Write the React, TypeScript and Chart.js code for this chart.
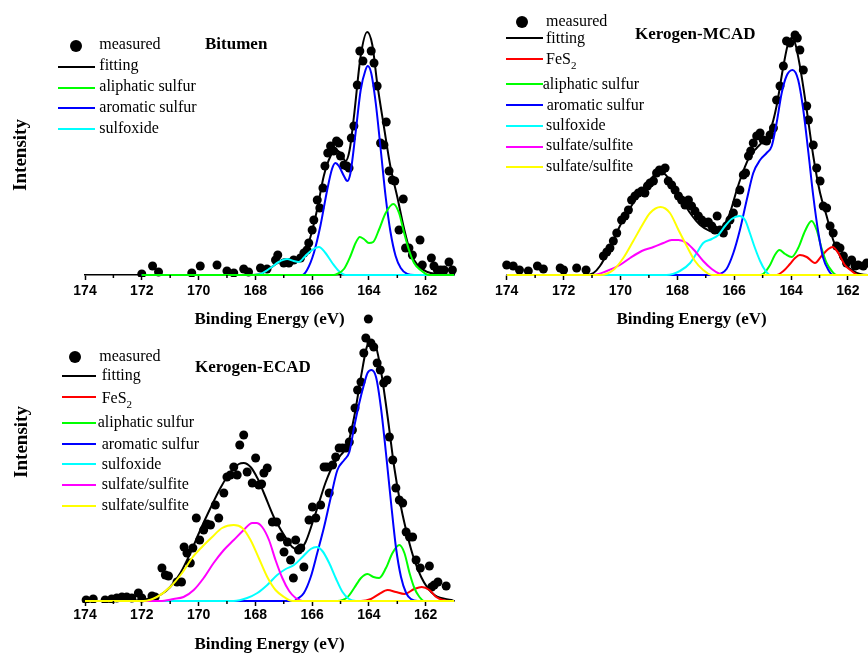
import React, { useEffect, useRef } from "react";
import { Chart, registerables } from "chart.js";

Chart.register(...registerables);

type Pt = [number, number];

// ---------------- axis values ----------------
const ENERGY_MIN = 161;
const ENERGY_MAX = 174;
const MAJOR_STEP = 2;
const MINOR_TICKS = [173, 171, 169, 167, 165, 163];

// ---------------- Bitumen ----------------
const bitumenMeasured: Pt[] = [
  [172.0, 1], [171.62, 9], [171.41, 3], [170.24, 2], [169.94, 9], [169.35, 10], [169.0, 4], [168.76, 2],
  [168.41, 6], [168.24, 3], [167.82, 7], [167.59, 6], [167.29, 15], [167.21, 20], [167.0, 12], [166.82, 12],
  [166.65, 15], [166.41, 17], [166.29, 22], [166.18, 25], [166.12, 32], [166.0, 45], [165.94, 55], [165.82, 75],
  [165.73, 67], [165.62, 87], [165.55, 109], [165.45, 122], [165.35, 129], [165.24, 124], [165.14, 134], [165.06, 132],
  [165.0, 119], [164.88, 110], [164.78, 109], [164.7, 107], [164.62, 137], [164.53, 149], [164.41, 190], [164.32, 224],
  [164.21, 214], [164.06, 253], [163.92, 224], [163.82, 212], [163.71, 189], [163.59, 132], [163.47, 130], [163.39, 153],
  [163.29, 104], [163.18, 95], [163.09, 94], [162.94, 45], [162.79, 76], [162.71, 27], [162.59, 27], [162.47, 20],
  [162.2, 35], [162.12, 10], [161.8, 17], [161.71, 9], [161.59, 5], [161.47, 5], [161.35, 5], [161.18, 13], [161.06, 5],
];
const bitumenFitting: Pt[] = [
  [172, 0], [168.2, 0], [167.82, 1], [167.47, 7], [167.18, 13], [166.88, 16], [166.65, 16], [166.41, 18],
  [166.2, 27], [166.06, 38], [165.82, 66], [165.59, 99], [165.35, 119], [165.18, 125], [165.0, 122], [164.82, 114],
  [164.68, 125], [164.53, 158], [164.29, 219], [164.06, 243], [163.88, 230], [163.71, 192], [163.47, 148], [163.24, 108],
  [163.0, 78], [162.76, 46], [162.53, 22], [162.29, 10], [161.94, 3], [161.59, 1], [161, 0],
];
const bitumenAromatic: Pt[] = [
  [172, 0], [166.35, 0], [166.18, 5], [165.94, 22], [165.71, 49], [165.47, 85], [165.3, 106], [165.18, 112],
  [165.06, 109], [164.88, 99], [164.76, 94], [164.65, 102], [164.47, 142], [164.29, 185], [164.12, 205], [164.04, 209],
  [163.92, 202], [163.76, 172], [163.59, 127], [163.41, 78], [163.24, 43], [163.06, 19], [162.88, 7], [162.65, 1],
  [162.4, 0], [161, 0],
];
const bitumenAliphatic: Pt[] = [
  [172, 0], [165.24, 0], [165.12, 1], [164.88, 6], [164.65, 19], [164.47, 32], [164.32, 38], [164.18, 36],
  [164.0, 32], [163.85, 33], [163.65, 45], [163.41, 62], [163.14, 71], [162.94, 62], [162.76, 42], [162.59, 25],
  [162.41, 12], [162.18, 5], [161.88, 0], [161, 0],
];
const bitumenSulfoxide: Pt[] = [
  [172, 0], [168.1, 0], [167.82, 1], [167.47, 7], [167.18, 13], [166.88, 16], [166.65, 14], [166.47, 13],
  [166.24, 19], [166.0, 25], [165.76, 28], [165.53, 22], [165.29, 12], [165.06, 4], [164.82, 0], [161, 0],
];

// ---------------- Kerogen-MCAD ----------------
const mcadMeasured: Pt[] = [
  [174.0, 10], [173.77, 9], [173.55, 5], [173.24, 4], [172.92, 9], [172.71, 6], [172.12, 7], [172.0, 5],
  [171.54, 7], [171.21, 5], [170.6, 19], [170.48, 23], [170.37, 27], [170.25, 34], [170.13, 42], [169.96, 55],
  [169.84, 59], [169.72, 65], [169.61, 75], [169.49, 79], [169.37, 82], [169.25, 84], [169.14, 82], [169.05, 89],
  [168.96, 92], [168.84, 94], [168.73, 102], [168.63, 105], [168.55, 104], [168.43, 107], [168.32, 94], [168.2, 90],
  [168.08, 85], [167.96, 79], [167.85, 75], [167.73, 70], [167.61, 75], [167.5, 69], [167.38, 64], [167.26, 59],
  [167.14, 55], [167.03, 52], [166.91, 53], [166.79, 49], [166.68, 45], [166.6, 59], [166.5, 45], [166.38, 42],
  [166.27, 49], [166.15, 55], [166.03, 62], [165.91, 72], [165.8, 85], [165.68, 100], [165.6, 102], [165.5, 119],
  [165.42, 124], [165.33, 132], [165.21, 139], [165.09, 142], [164.98, 135], [164.86, 134], [164.74, 140], [164.62, 147],
  [164.51, 175], [164.39, 189], [164.27, 209], [164.16, 234], [164.04, 232], [163.95, 250], [163.86, 240], [163.78, 237],
  [163.69, 225], [163.57, 205], [163.45, 169], [163.39, 155], [163.22, 130], [163.1, 107], [162.98, 94], [162.87, 69],
  [162.75, 67], [162.63, 49], [162.52, 42], [162.4, 29], [162.28, 27], [162.16, 19], [162.05, 12], [161.87, 15],
  [161.75, 9], [161.64, 10], [161.46, 9], [161.34, 12],
];
const mcadFitting: Pt[] = [
  [174, 0], [171.2, 0], [170.95, 2], [170.72, 9], [170.37, 27], [170.02, 49], [169.66, 67], [169.31, 82],
  [168.96, 95], [168.61, 104], [168.26, 95], [167.91, 79], [167.55, 62], [167.2, 50], [166.85, 44], [166.65, 42],
  [166.38, 49], [166.15, 62], [165.91, 85], [165.68, 104], [165.45, 119], [165.21, 127], [164.98, 134], [164.74, 144],
  [164.51, 169], [164.27, 209], [164.1, 232], [163.98, 237], [163.86, 232], [163.69, 209], [163.45, 165], [163.22, 119],
  [162.98, 82], [162.75, 59], [162.52, 35], [162.28, 19], [162.05, 9], [161.81, 4], [161.58, 1], [161.3, 0], [161, 0],
];
const mcadFeS2: Pt[] = [
  [174, 0], [164.51, 0], [164.27, 4], [164.04, 11], [163.86, 17], [163.69, 20], [163.45, 18], [163.16, 12],
  [162.93, 19], [162.69, 26], [162.54, 28], [162.34, 22], [162.11, 10], [161.87, 4], [161.64, 0], [161, 0],
];
const mcadAliphatic: Pt[] = [
  [174, 0], [165.09, 0], [164.98, 1], [164.74, 10], [164.57, 20], [164.41, 25], [164.21, 21], [163.98, 18],
  [163.75, 27], [163.51, 44], [163.28, 54], [163.1, 45], [162.93, 27], [162.75, 12], [162.57, 4], [162.4, 0], [161, 0],
];
const mcadAromatic: Pt[] = [
  [174, 0], [166.62, 0], [166.5, 1], [166.27, 6], [166.03, 22], [165.8, 45], [165.56, 75], [165.33, 102],
  [165.09, 115], [164.86, 122], [164.68, 129], [164.51, 152], [164.33, 182], [164.16, 199], [163.95, 205], [163.75, 195],
  [163.57, 165], [163.39, 122], [163.22, 79], [163.04, 42], [162.87, 17], [162.69, 5], [162.52, 0], [161, 0],
];
const mcadSulfoxide: Pt[] = [
  [174, 0], [168.38, 0], [167.91, 4], [167.55, 12], [167.32, 22], [167.09, 32], [166.79, 36], [166.56, 40],
  [166.32, 49], [166.09, 56], [165.82, 59], [165.62, 55], [165.45, 42], [165.27, 27], [165.09, 14], [164.92, 5],
  [164.74, 0], [161, 0],
];
const mcadSulfateA: Pt[] = [
  [174, 0], [170.95, 0], [170.48, 4], [170.02, 10], [169.66, 17], [169.25, 24], [168.84, 28], [168.49, 32],
  [168.2, 35], [167.96, 35], [167.67, 32], [167.38, 24], [167.09, 14], [166.79, 6], [166.5, 1], [166.27, 0], [161, 0],
];
const mcadSulfateB: Pt[] = [
  [174, 0], [170.72, 0], [170.25, 5], [169.9, 17], [169.55, 34], [169.25, 49], [168.96, 62], [168.59, 68],
  [168.26, 62], [167.96, 45], [167.67, 29], [167.38, 14], [167.09, 5], [166.79, 0], [161, 0],
];

// ---------------- Kerogen-ECAD ----------------
const ecadMeasured: Pt[] = [
  [173.96, 1], [173.71, 2], [173.29, 1], [173.06, 2], [172.88, 3], [172.7, 4], [172.53, 4], [172.35, 3],
  [172.12, 8], [172.0, 3], [171.64, 5], [171.53, 4], [171.29, 33], [171.17, 26], [171.06, 25], [170.76, 19],
  [170.6, 19], [170.51, 54], [170.41, 48], [170.29, 38], [170.2, 53], [170.08, 83], [169.96, 61], [169.82, 71],
  [169.7, 77], [169.58, 76], [169.41, 96], [169.29, 83], [169.11, 108], [169.0, 124], [168.88, 126], [168.76, 134],
  [168.64, 126], [168.55, 156], [168.41, 166], [168.29, 129], [168.11, 118], [167.99, 143], [167.88, 116], [167.78, 117],
  [167.7, 128], [167.58, 133], [167.4, 79], [167.25, 79], [167.11, 64], [166.99, 49], [166.87, 59], [166.76, 41],
  [166.66, 23], [166.58, 61], [166.48, 51], [166.4, 53], [166.29, 34], [166.11, 81], [165.99, 94], [165.87, 83],
  [165.7, 96], [165.58, 134], [165.48, 134], [165.4, 108], [165.28, 136], [165.17, 144], [165.05, 153], [164.93, 153],
  [164.81, 153], [164.69, 159], [164.58, 171], [164.49, 193], [164.4, 211], [164.28, 219], [164.18, 248], [164.11, 263],
  [164.02, 282], [163.93, 258], [163.83, 254], [163.71, 238], [163.6, 231], [163.48, 218], [163.36, 221], [163.28, 164],
  [163.16, 141], [163.05, 113], [162.93, 101], [162.81, 98], [162.69, 69], [162.57, 64], [162.46, 64], [162.34, 41],
  [162.19, 33], [161.87, 35], [161.79, 14], [161.7, 16], [161.57, 19], [161.28, 15],
];
const ecadFitting: Pt[] = [
  [174, 0], [171.94, 1], [171.7, 3], [171.35, 6], [171.0, 14], [170.64, 28], [170.29, 48], [169.94, 71],
  [169.58, 93], [169.23, 113], [168.88, 129], [168.58, 137], [168.41, 138], [168.17, 134], [167.93, 123], [167.7, 108],
  [167.35, 84], [166.99, 66], [166.7, 54], [166.46, 51], [166.23, 59], [165.99, 78], [165.75, 99], [165.52, 119],
  [165.22, 138], [164.99, 146], [164.75, 156], [164.52, 184], [164.28, 224], [164.05, 256], [163.91, 259], [163.75, 254],
  [163.58, 231], [163.34, 184], [163.11, 134], [162.87, 94], [162.63, 64], [162.4, 41], [162.16, 24], [161.93, 13],
  [161.69, 6], [161.46, 3], [161.1, 1], [161, 0],
];
const ecadFeS2: Pt[] = [
  [174, 0], [164.28, 0], [163.93, 2], [163.64, 7], [163.34, 11], [163.05, 9], [162.75, 7], [162.4, 12],
  [162.14, 14], [161.87, 11], [161.63, 4], [161.4, 1], [161.16, 0], [161, 0],
];
const ecadAliphatic: Pt[] = [
  [174, 0], [165.11, 0], [164.75, 4], [164.52, 13], [164.28, 23], [164.05, 27], [163.84, 24], [163.64, 23],
  [163.4, 33], [163.17, 48], [162.93, 56], [162.75, 48], [162.57, 28], [162.4, 13], [162.22, 4], [162.04, 0], [161, 0],
];
const ecadAromatic: Pt[] = [
  [174, 0], [166.64, 0], [166.52, 2], [166.29, 8], [166.05, 24], [165.82, 48], [165.58, 74], [165.34, 104],
  [165.11, 131], [164.87, 141], [164.69, 149], [164.52, 174], [164.34, 198], [164.16, 218], [164.05, 228], [163.91, 231],
  [163.75, 224], [163.58, 194], [163.4, 148], [163.22, 98], [163.05, 54], [162.87, 24], [162.69, 8], [162.52, 2],
  [162.28, 0], [161, 0],
];
const ecadSulfoxide: Pt[] = [
  [174, 0], [168.76, 0], [168.29, 3], [167.93, 8], [167.58, 16], [167.23, 26], [166.93, 32], [166.64, 36],
  [166.34, 44], [166.05, 52], [165.84, 54], [165.64, 50], [165.4, 38], [165.17, 23], [164.93, 9], [164.7, 2],
  [164.46, 0], [161, 0],
];
const ecadSulfateA: Pt[] = [
  [174, 0], [171.35, 0], [170.88, 2], [170.53, 4], [170.17, 11], [169.82, 23], [169.47, 38], [169.11, 51],
  [168.76, 61], [168.41, 71], [168.11, 78], [167.96, 78], [167.76, 74], [167.52, 61], [167.29, 41], [167.05, 23],
  [166.81, 10], [166.58, 3], [166.34, 0], [161, 0],
];
const ecadSulfateB: Pt[] = [
  [174, 0], [171.94, 0], [171.47, 4], [171.0, 14], [170.58, 28], [170.23, 43], [169.88, 54], [169.52, 64],
  [169.17, 73], [168.76, 76], [168.46, 73], [168.17, 61], [167.88, 43], [167.58, 24], [167.29, 11], [166.99, 4],
  [166.7, 0], [161, 0],
];

// ---------------- series definitions ----------------
const SERIF = '"Liberation Serif", "Times New Roman", serif';
const SANS = '"Liberation Sans", Arial, sans-serif';

const C = {
  black: "#000000",
  red: "#ff0000",
  green: "#00ff00",
  blue: "#0000ff",
  cyan: "#00ffff",
  magenta: "#ff00ff",
  yellow: "#ffff00",
};

interface SeriesDef {
  label: string;
  color: string;
  kind: "dot" | "line";
  data: Pt[];
  order: number;
}

const bitumenSeries: SeriesDef[] = [
  { label: "measured", color: C.black, kind: "dot", data: bitumenMeasured, order: 100 },
  { label: "fitting", color: C.black, kind: "line", data: bitumenFitting, order: 50 },
  { label: "aliphatic sulfur", color: C.green, kind: "line", data: bitumenAliphatic, order: 20 },
  { label: "aromatic sulfur", color: C.blue, kind: "line", data: bitumenAromatic, order: 40 },
  { label: "sulfoxide", color: C.cyan, kind: "line", data: bitumenSulfoxide, order: 30 },
];
const mcadSeries: SeriesDef[] = [
  { label: "measured", color: C.black, kind: "dot", data: mcadMeasured, order: 100 },
  { label: "fitting", color: C.black, kind: "line", data: mcadFitting, order: 50 },
  { label: "FeS2", color: C.red, kind: "line", data: mcadFeS2, order: 46 },
  { label: "aliphatic sulfur", color: C.green, kind: "line", data: mcadAliphatic, order: 45 },
  { label: "aromatic sulfur", color: C.blue, kind: "line", data: mcadAromatic, order: 44 },
  { label: "sulfoxide", color: C.cyan, kind: "line", data: mcadSulfoxide, order: 43 },
  { label: "sulfate/sulfite", color: C.magenta, kind: "line", data: mcadSulfateA, order: 42 },
  { label: "sulfate/sulfite", color: C.yellow, kind: "line", data: mcadSulfateB, order: 41 },
];
const ecadSeries: SeriesDef[] = [
  { label: "measured", color: C.black, kind: "dot", data: ecadMeasured, order: 100 },
  { label: "fitting", color: C.black, kind: "line", data: ecadFitting, order: 50 },
  { label: "FeS2", color: C.red, kind: "line", data: ecadFeS2, order: 46 },
  { label: "aliphatic sulfur", color: C.green, kind: "line", data: ecadAliphatic, order: 45 },
  { label: "aromatic sulfur", color: C.blue, kind: "line", data: ecadAromatic, order: 44 },
  { label: "sulfoxide", color: C.cyan, kind: "line", data: ecadSulfoxide, order: 43 },
  { label: "sulfate/sulfite", color: C.magenta, kind: "line", data: ecadSulfateA, order: 42 },
  { label: "sulfate/sulfite", color: C.yellow, kind: "line", data: ecadSulfateB, order: 41 },
];

// ---------------- layout ----------------
interface LegendRow { lineY: number; textX: number; textY: number }
interface PanelLayout {
  left: number; top: number; w: number; h: number;
  yW: number; xH: number; padT: number; padR: number; yMax: number;
  tickPad: number; titlePadB: number; showY: boolean; yTitlePad: number;
  title: string; titleX: number; titleTop: number;
  dot: { cx: number; cy: number; textX: number; textY: number };
  lineX1: number; lineX2: number;
  rows: LegendRow[];
}

const bitumenLayout: PanelLayout = {
  left: 0, top: 0, w: 460, h: 335, yW: 85, xH: 60, padT: 35, padR: 5.9, yMax: 240,
  tickPad: 3, titlePadB: 4.8, showY: true, yTitlePad: 9.5,
  title: "Bitumen", titleX: 205, titleTop: 34.4,
  dot: { cx: 75.7, cy: 45.7, textX: 99.3, textY: 45.7 },
  lineX1: 58.3, lineX2: 95,
  rows: [
    { lineY: 66.7, textX: 99.3, textY: 66.7 },
    { lineY: 87.7, textX: 99.3, textY: 87.7 },
    { lineY: 108.3, textX: 99.3, textY: 108.3 },
    { lineY: 129, textX: 99.3, textY: 129 },
  ],
};
const mcadLayout: PanelLayout = {
  left: 420, top: 0, w: 462, h: 335, yW: 86.7, xH: 60, padT: 35, padR: 5.6, yMax: 240,
  tickPad: 3, titlePadB: 4.8, showY: false, yTitlePad: 8,
  title: "Kerogen-MCAD", titleX: 635, titleTop: 23.7,
  dot: { cx: 522, cy: 21.7, textX: 546, textY: 22 },
  lineX1: 505.7, lineX2: 542.7,
  rows: [
    { lineY: 38.3, textX: 546, textY: 39.3 },
    { lineY: 58.7, textX: 546, textY: 58.8 },
    { lineY: 84.3, textX: 542.7, textY: 85 },
    { lineY: 105.3, textX: 546.7, textY: 106 },
    { lineY: 126, textX: 546, textY: 126.7 },
    { lineY: 146.7, textX: 546, textY: 146.7 },
    { lineY: 167, textX: 546, textY: 167.7 },
  ],
};
const ecadLayout: PanelLayout = {
  left: 0, top: 270, w: 460, h: 386, yW: 85, xH: 55, padT: 13, padR: 5.9, yMax: 318,
  tickPad: 1, titlePadB: 0.8, showY: true, yTitlePad: 10.5,
  title: "Kerogen-ECAD", titleX: 195, titleTop: 357.4,
  dot: { cx: 75, cy: 357.3, textX: 99.3, textY: 357.3 },
  lineX1: 61.7, lineX2: 96,
  rows: [
    { lineY: 376, textX: 101.7, textY: 376.7 },
    { lineY: 397.3, textX: 101.7, textY: 398.3 },
    { lineY: 422.7, textX: 97.7, textY: 423.3 },
    { lineY: 444, textX: 101.7, textY: 445 },
    { lineY: 464.3, textX: 101.7, textY: 465 },
    { lineY: 485, textX: 101.7, textY: 485.7 },
    { lineY: 505.7, textX: 101.7, textY: 506 },
  ],
};

// ---------------- chart ----------------
const minorTickPlugin = {
  id: "minorTicks",
  afterDraw(chart: any) {
    const xs = chart.scales.x;
    const ctx = chart.ctx;
    ctx.save();
    ctx.strokeStyle = "#000";
    ctx.lineWidth = 1.5;
    for (const v of MINOR_TICKS) {
      const px = xs.getPixelForValue(v);
      if (px < xs.left - 0.5 || px > xs.right + 0.5) continue;
      ctx.beginPath();
      ctx.moveTo(px, xs.top);
      ctx.lineTo(px, xs.top + 3);
      ctx.stroke();
    }
    ctx.restore();
  },
};

const CLIP = { left: 6, right: 6, top: false, bottom: 2 };

function buildDatasets(series: SeriesDef[]) {
  return series.map((s) => {
    const data = s.data.map(([x, y]) => ({ x, y }));
    if (s.kind === "dot") {
      return {
        label: s.label, data, showLine: false, order: s.order,
        pointRadius: 4.5, pointHoverRadius: 4.5, pointBorderWidth: 0,
        pointBackgroundColor: s.color, backgroundColor: s.color, borderColor: s.color,
        clip: CLIP,
      };
    }
    return {
      label: s.label, data, showLine: true, order: s.order,
      borderColor: s.color, backgroundColor: s.color, borderWidth: 2,
      pointRadius: 0, pointHoverRadius: 0, fill: false,
      cubicInterpolationMode: "monotone", clip: CLIP,
    };
  });
}

function Panel({ series, layout }: { series: SeriesDef[]; layout: PanelLayout }) {
  const ref = useRef<HTMLCanvasElement | null>(null);
  useEffect(() => {
    if (!ref.current) return;
    const L = layout;
    const chart = new Chart(ref.current, {
      type: "scatter",
      data: { datasets: buildDatasets(series) as any },
      plugins: [minorTickPlugin],
      options: {
        responsive: false,
        animation: false,
        events: [],
        layout: { padding: { left: 0, right: L.padR, top: L.padT, bottom: 0 } },
        plugins: { legend: { display: false }, tooltip: { enabled: false }, title: { display: false } },
        scales: {
          x: {
            type: "linear",
            reverse: true,
            min: ENERGY_MIN,
            max: ENERGY_MAX,
            ticks: {
              stepSize: MAJOR_STEP,
              includeBounds: false,
              autoSkip: false,
              maxRotation: 0,
              color: "#000",
              padding: L.tickPad,
              font: { family: SANS, size: 14, weight: "bold" },
            },
            grid: {
              display: true, drawOnChartArea: false, drawTicks: true,
              tickLength: 5, tickWidth: 1.5, tickColor: "#000", color: "#000",
            },
            border: { display: true, color: "#000", width: 1.5 },
            title: {
              display: true, text: "Binding Energy (eV)", color: "#000",
              font: { family: SERIF, size: 17, weight: "bold" },
              padding: { top: 0, bottom: L.titlePadB },
            },
            afterFit: (s: any) => { s.height = L.xH; },
          } as any,
          y: {
            type: "linear",
            min: 0,
            max: L.yMax,
            ticks: { display: false },
            grid: { display: false },
            border: { display: false },
            title: {
              display: L.showY, text: "Intensity", color: "#000",
              font: { family: SERIF, size: 19, weight: "bold" },
              padding: { top: L.yTitlePad, bottom: 0 },
            },
            afterFit: (s: any) => { s.width = L.yW; },
          } as any,
        },
      },
    });
    return () => chart.destroy();
  }, []);
  return (
    <canvas
      ref={ref}
      width={layout.w}
      height={layout.h}
      style={{ position: "absolute", left: layout.left, top: layout.top, width: layout.w, height: layout.h }}
    />
  );
}

function LegendLabel({ text }: { text: string }) {
  if (text === "FeS2") {
    return (
      <>
        FeS
        <span style={{ fontSize: 11, position: "relative", top: 5 }}>2</span>
      </>
    );
  }
  return <>{text}</>;
}

function Overlay({ series, layout }: { series: SeriesDef[]; layout: PanelLayout }) {
  const textStyle = (x: number, y: number, caps: boolean): React.CSSProperties => ({
    position: "absolute",
    left: x,
    top: y - (caps ? 9.1 : 10.5),
    font: `16px ${SERIF}`,
    lineHeight: "18px",
    color: "#000",
    whiteSpace: "nowrap",
  });
  const lines = series.filter((s) => s.kind === "line");
  const dot = series.find((s) => s.kind === "dot");
  return (
    <>
      <div
        style={{
          position: "absolute", left: layout.titleX, top: layout.titleTop,
          font: `bold 17px ${SERIF}`, lineHeight: "20px", color: "#000", whiteSpace: "nowrap",
        }}
      >
        {layout.title}
      </div>
      {dot && (
        <>
          <div
            style={{
              position: "absolute", left: layout.dot.cx - 6, top: layout.dot.cy - 6,
              width: 12, height: 12, borderRadius: "50%", background: dot.color,
            }}
          />
          <div style={textStyle(layout.dot.textX, layout.dot.textY, false)}>{dot.label}</div>
        </>
      )}
      {lines.map((s, i) => {
        const r = layout.rows[i];
        return (
          <React.Fragment key={i}>
            <div
              style={{
                position: "absolute", left: layout.lineX1, top: r.lineY - 1,
                width: layout.lineX2 - layout.lineX1, height: 2, background: s.color,
              }}
            />
            <div style={textStyle(r.textX, r.textY, s.label === "FeS2")}>
              <LegendLabel text={s.label} />
            </div>
          </React.Fragment>
        );
      })}
    </>
  );
}

export default function App() {
  return (
    <div
      style={{
        position: "fixed", left: 0, top: 0, width: 868, height: 656,
        overflow: "hidden", background: "#ffffff",
      }}
    >
      <Panel series={bitumenSeries} layout={bitumenLayout} />
      <Panel series={mcadSeries} layout={mcadLayout} />
      <Panel series={ecadSeries} layout={ecadLayout} />
      <Overlay series={bitumenSeries} layout={bitumenLayout} />
      <Overlay series={mcadSeries} layout={mcadLayout} />
      <Overlay series={ecadSeries} layout={ecadLayout} />
    </div>
  );
}
